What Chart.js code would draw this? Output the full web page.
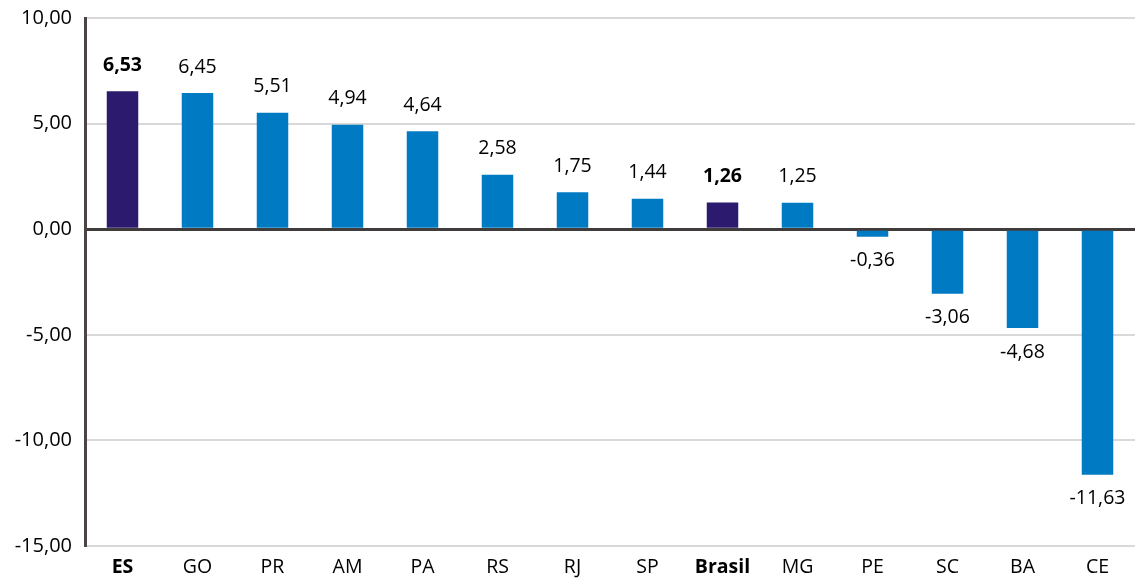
<!DOCTYPE html>
<html lang="pt-BR">
<head>
  <meta charset="UTF-8" />
  <title>Variação por UF</title>
  <script src="https://cdn.jsdelivr.net/npm/chart.js"></script>
  <style>
    html, body { margin: 0; padding: 0; background: #fff; }
    .wrap { width: 1135px; height: 578px; }
  </style>
</head>
<body>
<div class="wrap"><canvas id="chart"></canvas></div>
<script>
  const categories = ['ES', 'GO', 'PR', 'AM', 'PA', 'RS', 'RJ', 'SP', 'Brasil', 'MG', 'PE', 'SC', 'BA', 'CE'];
  const values = [6.53, 6.45, 5.51, 4.94, 4.64, 2.58, 1.75, 1.44, 1.26, 1.25, -0.36, -3.06, -4.68, -11.63];
  const highlighted = ['ES', 'Brasil'];

  const FONT = "'Open Sans', 'Noto Sans', sans-serif";
  const fmt = v => v.toFixed(2).replace('.', ',');
  const isHi = i => highlighted.includes(categories[i]);

  // draws the value above/below each bar
  const valueLabels = {
    id: 'valueLabels',
    afterDatasetsDraw(chart) {
      const ctx = chart.ctx;
      const meta = chart.getDatasetMeta(0);
      ctx.save();
      ctx.textAlign = 'center';
      ctx.textBaseline = 'middle';
      ctx.fillStyle = '#000';
      meta.data.forEach((bar, i) => {
        const v = values[i];
        ctx.font = (isHi(i) ? 'bold ' : '') + '19.5px ' + FONT;
        const y = v >= 0 ? bar.y - 26 : bar.y + 24;
        ctx.fillText(fmt(v), bar.x, y);
      });
      ctx.restore();
    }
  };

  new Chart(document.getElementById('chart'), {
    type: 'bar',
    data: {
      labels: categories,
      datasets: [{
        data: values,
        backgroundColor: categories.map((c, i) => isHi(i) ? '#2B1A6E' : '#007BC3'),
        borderWidth: 0,
        categoryPercentage: 1,
        barPercentage: 0.42
      }]
    },
    options: {
      responsive: true,
      maintainAspectRatio: false,
      animation: false,
      layout: { padding: { top: 18, right: -10, bottom: 0, left: 0 } },
      plugins: { legend: { display: false }, tooltip: { enabled: false } },
      scales: {
        x: {
          grid: { display: false },
          border: { display: false },
          ticks: {
            color: '#000',
            padding: 2,
            font: ctx => ({ family: FONT, size: 19.5, weight: isHi(ctx.index) ? 'bold' : 'normal' })
          },
          afterFit: s => { s.height = 32; }
        },
        y: {
          min: -15,
          max: 10,
          grid: {
            color: ctx => ctx.tick && ctx.tick.value === 0 ? '#403c3c' : '#d9d9d9',
            lineWidth: ctx => ctx.tick && ctx.tick.value === 0 ? 3 : 2,
            drawTicks: false
          },
          border: { color: '#4a4444', width: 3 },
          ticks: {
            stepSize: 5,
            color: '#000',
            padding: 13,
            font: { family: FONT, size: 20 },
            callback: v => fmt(v)
          },
          afterFit: s => { s.width = 85; s.paddingTop = 0; s.paddingBottom = 0; }
        }
      }
    },
    plugins: [valueLabels]
  });
</script>
</body>
</html>
